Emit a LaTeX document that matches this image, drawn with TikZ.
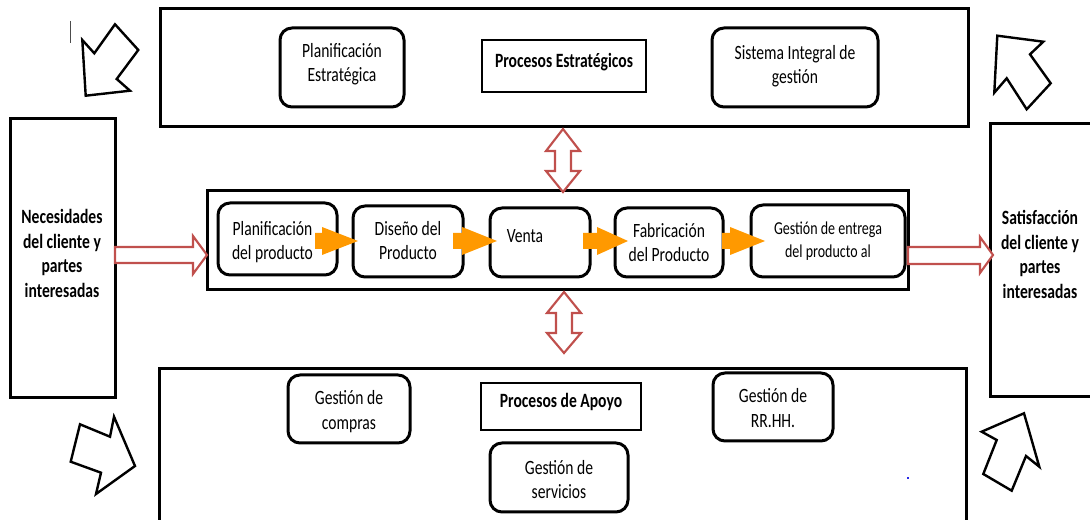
\documentclass[tikz,border=0pt]{standalone}
\usepackage{fontspec}
\setmainfont{Carlito}
\usepackage{graphicx}
\usetikzlibrary{fit,calc}
\definecolor{flowor}{RGB}{255,153,0}
\definecolor{linkred}{RGB}{192,80,77}
\definecolor{dotblue}{RGB}{40,40,230}
% centred multi-line label, set a little taller than wide
\newcommand{\tallt}[1]{\scalebox{1}[1.3]{\begin{tabular}{@{}c@{}}#1\end{tabular}}}
% orange block arrow: tail x, head base x, tip x, centre y
\newcommand{\flowarrow}[4]{%
  \fill[flow] (#1,#4-8) -- (#2,#4-8) -- (#2,#4-14) -- (#3,#4)
    -- (#2,#4+14) -- (#2,#4+8) -- (#1,#4+8) -- cycle;}
\begin{document}
\begin{tikzpicture}[x=0.75pt,y=-0.75pt,
  frame/.style={draw, line width=2.25pt, inner sep=0pt},
  rbox/.style={draw, line width=2.25pt, rounded corners=9pt, inner sep=0pt},
  pbox/.style={draw, line width=0.9pt, inner sep=0pt},
  txt/.style={font=\fontsize{11.7}{14.4}\selectfont, inner sep=0pt, yshift=-1.5pt},
  btxt/.style={inner sep=0pt, yshift=-1.5pt, font=\fontsize{11.7}{14.4}\selectfont\bfseries},
  stxt/.style={inner sep=0pt, yshift=-1.5pt, font=\fontsize{10.5}{13.3}\selectfont},
  hollow/.style={draw, line width=1.8pt, line join=miter, fill=white},
  link/.style={draw=linkred, line width=1.6pt, line join=miter, fill=white},
  flow/.style={fill=flowor}]
\useasboundingbox (0,0) rectangle (1090,520);
\clip (0,0) rectangle (1090,520);

% ---- strategic processes ----
\node[frame, fit={(160,9)(968,127)}] (top) {};
\node[rbox, fit={(280,28)(404,107)}] (pe) {};
\node[txt] at ($(pe.center)+(0,-5)$) {\tallt{Planificación\\Estratégica}};
\node[pbox, fit={(482,40)(646,92)}] (ps) {};
\node[btxt] at ($(ps.center)+(0,-5)$) {\tallt{Procesos Estratégicos}};
\node[rbox, fit={(712,28)(878,107)}] (sig) {};
\node[txt] at ($(sig.center)+(0,-3)$) {\tallt{Sistema Integral de\\gestión}};

% ---- customer boxes ----
\node[frame, fit={(10,119)(115,398)}] (nec) {};
\node[btxt] at (62,253.5) {\tallt{Necesidades\\del cliente y\\partes\\interesadas}};
\node[frame, fit={(990,124)(1110,397)}] (sat) {};
\node[btxt] at (1040,254.5) {\tallt{Satisfacción\\del cliente y\\partes\\interesadas}};

% ---- key processes ----
\node[frame, fit={(207,191)(908,290)}] (core) {};
\node[rbox, fit={(218,203)(337,275)}] (b1) {};
\node[txt] at ($(b1.center)+(-5,1.5)$) {\tallt{Planificación\\del producto}};
\node[rbox, fit={(353,206)(463,277)}] (b2) {};
\node[txt] at ($(b2.center)+(0,-1)$) {\tallt{Diseño del\\Producto}};
\node[rbox, fit={(490,208)(590,277)}] (b3) {};
\node[txt] at ($(b3.center)+(-15,-6.5)$) {\tallt{Venta}};
\node[rbox, fit={(615,208)(723,277)}] (b4) {};
\node[txt] at (b4.center) {\tallt{Fabricación\\del Producto}};
\node[rbox, fit={(751,205)(905,277)}] (b5) {};
\node[stxt] at ($(b5.center)+(0,-1.5)$) {\tallt{Gestión de entrega\\del producto al}};

\flowarrow{315}{322}{358}{241}
\flowarrow{453}{462}{497}{241}
\flowarrow{583}{597}{628}{241}
\flowarrow{722}{730}{765}{241}

% ---- support processes ----
\node[frame, fit={(159,369)(966,540)}] (bot) {};
\node[rbox, fit={(288,375)(410,443)}] (gc) {};
\node[txt] at ($(gc.center)+(0,1)$) {\tallt{Gestión de\\compras}};
\node[pbox, fit={(481,383)(641,430)}] (pa) {};
\node[btxt] at ($(pa.center)+(0,-5.5)$) {\tallt{Procesos de Apoyo}};
\node[rbox, fit={(713,373)(833,441)}] (rh) {};
\node[txt] at ($(rh.center)+(0,1)$) {\tallt{Gestión de\\RR.HH.}};
\node[rbox, fit={(490,443)(628,512)}] (gs) {};
\node[txt] at ($(gs.center)+(0,2)$) {\tallt{Gestión de\\servicios}};

% ---- red block arrows between the blocks ----
\path[link] (115,247) -- (193,247) -- (193,236) -- (207,255) -- (193,274)
  -- (193,263) -- (115,263) -- cycle;
\path[link] (908,247) -- (980,247) -- (980,237) -- (993,255) -- (980,273)
  -- (980,264) -- (908,264) -- cycle;
\path[link] (563,129) -- (580,151) -- (571,151) -- (571,171) -- (580,171)
  -- (563,192) -- (546,171) -- (555,171) -- (555,151) -- (546,151) -- cycle;
\path[link] (564,292) -- (581,313) -- (572,313) -- (572,333) -- (581,333)
  -- (564,353) -- (547,333) -- (556,333) -- (556,313) -- (547,313) -- cycle;

% ---- hollow corner arrows ----
\path[hollow] (82.3,40) -- (94.3,53.3) -- (115,24.3) -- (138.3,50) -- (116.7,79)
  -- (130,90.7) -- (85.7,95.7) -- cycle;
\path[hollow] (997.3,35.7) -- (1043.3,41.7) -- (1030,54.3) -- (1050.7,83.3)
  -- (1026.7,109.3) -- (1006.7,78.3) -- (994.3,92.7) -- cycle;
\path[hollow] (80,424.3) -- (110,436.7) -- (114,416.7) -- (135,466) -- (96,494)
  -- (101,472.7) -- (70.7,461.7) -- cycle;
\path[hollow] (1024,413.3) -- (1039.3,466.7) -- (1026,456) -- (1011.7,490.7)
  -- (983.3,474) -- (996.7,440) -- (981.7,431.7) -- cycle;

% ---- small marks ----
\draw[black!70, line width=0.8pt] (70.5,21) -- (70.5,43);
\fill[dotblue] (907,477) rectangle (909,479);
\end{tikzpicture}
\end{document}
